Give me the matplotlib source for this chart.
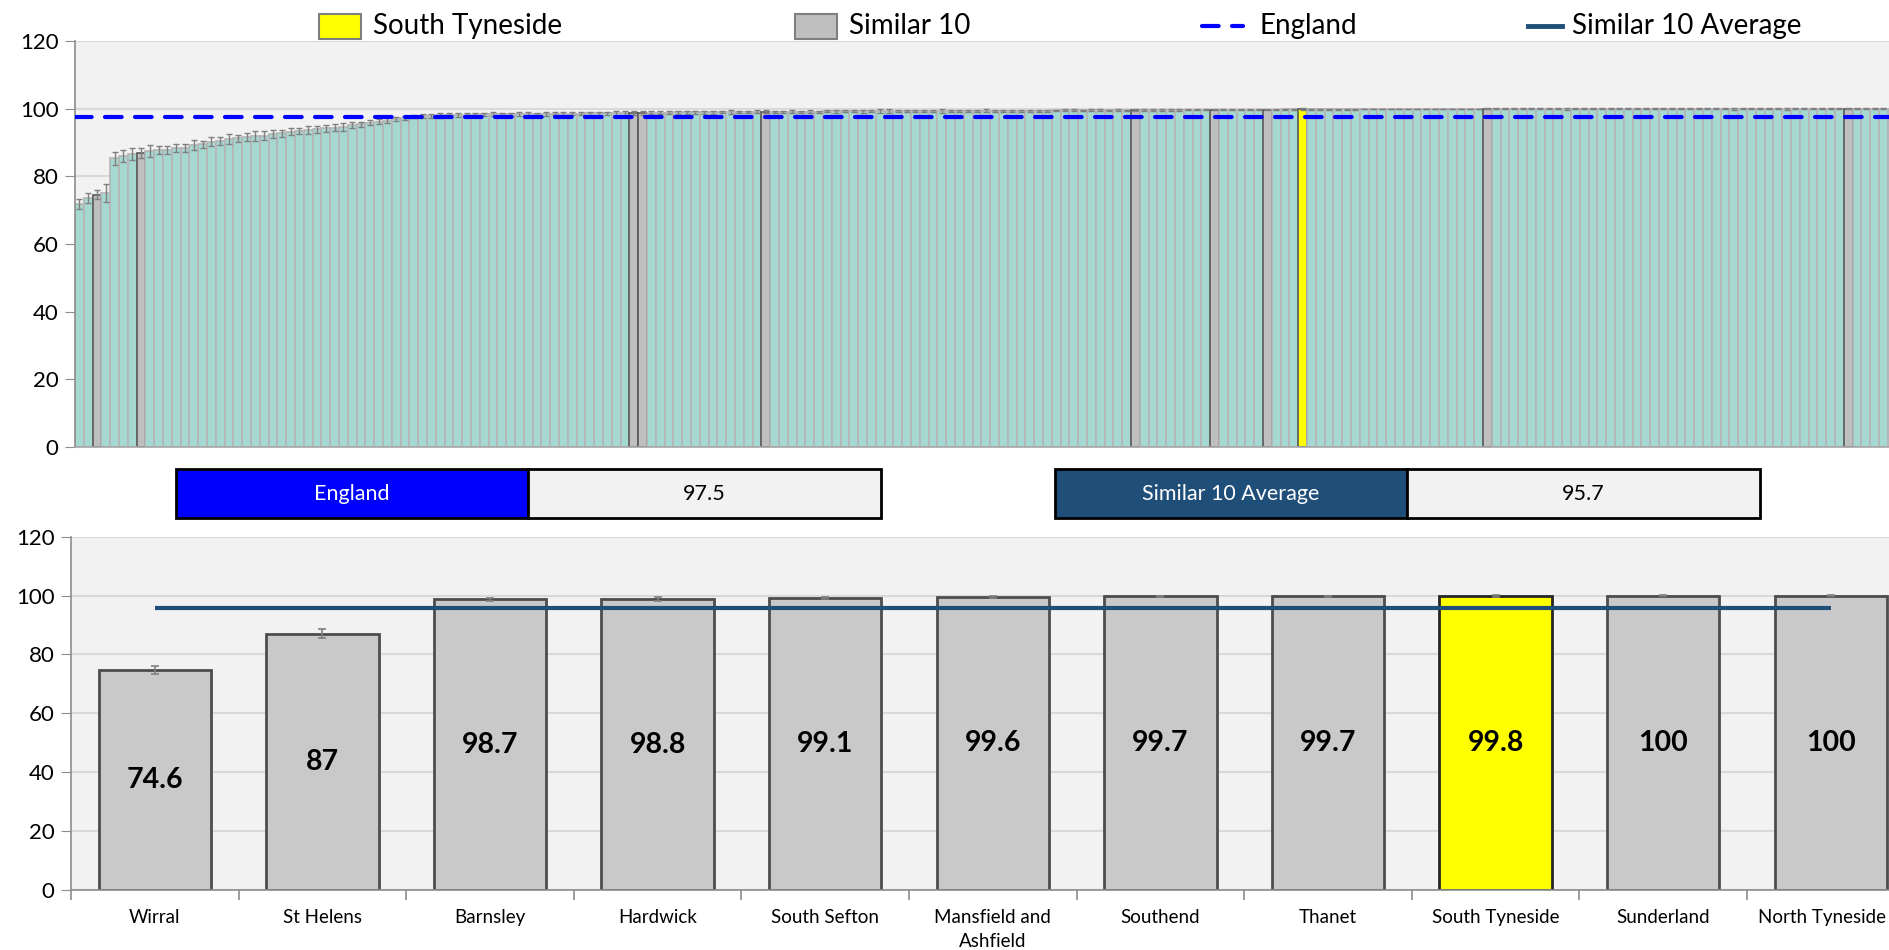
import matplotlib
matplotlib.use("Agg")
import matplotlib.pyplot as plt
from matplotlib.patches import Rectangle
from matplotlib.lines import Line2D
from matplotlib.transforms import ScaledTranslation

plt.rcParams['font.family'] = ['Lato', 'DejaVu Sans']

# ---------------- data ----------------
# Top chart: all areas, ranked ascending
top_values = [
    71.8, 73.5, 74.6, 75.0, 85.3, 86.0, 86.6, 87.0, 87.5, 87.8,
    87.8, 88.3, 88.5, 89.3, 89.5, 90.2, 90.5, 91.0, 91.2, 91.6,
    91.9, 92.0, 92.5, 92.7, 93.2, 93.5, 93.7, 93.9, 94.2, 94.4,
    94.7, 95.2, 95.4, 95.9, 96.2, 96.5, 96.9, 97.3, 97.6, 97.8,
    97.8, 98.0, 98.1, 98.2, 98.2, 98.2, 98.3, 98.3, 98.3, 98.3,
    98.4, 98.4, 98.4, 98.4, 98.5, 98.5, 98.5, 98.5, 98.6, 98.6,
    98.6, 98.6, 98.7, 98.7, 98.8, 98.8, 98.8, 98.8, 98.9, 98.9,
    98.9, 98.9, 98.9, 99.0, 99.0, 99.0, 99.0, 99.1, 99.1, 99.1,
    99.1, 99.1, 99.1, 99.1, 99.1, 99.2, 99.2, 99.2, 99.2, 99.2,
    99.2, 99.2, 99.2, 99.3, 99.3, 99.3, 99.3, 99.3, 99.3, 99.3,
    99.3, 99.3, 99.4, 99.4, 99.4, 99.4, 99.4, 99.4, 99.4, 99.4,
    99.4, 99.5, 99.5, 99.5, 99.5, 99.5, 99.5, 99.5, 99.5, 99.5,
    99.6, 99.6, 99.6, 99.6, 99.6, 99.6, 99.7, 99.7, 99.7, 99.7,
    99.7, 99.7, 99.7, 99.7, 99.7, 99.7, 99.7, 99.8, 99.8, 99.8,
    99.8, 99.8, 99.8, 99.8, 99.8, 99.8, 99.9, 99.9, 99.9, 99.9,
    99.9, 99.9, 99.9, 99.9, 99.9, 99.9, 99.9, 99.9, 99.9, 99.9,
    100, 100, 100, 100, 100, 100, 100, 100, 100, 100,
    100, 100, 100, 100, 100, 100, 100, 100, 100, 100,
    100, 100, 100, 100, 100, 100, 100, 100, 100, 100,
    100, 100, 100, 100, 100, 100, 100, 100, 100, 100,
    100, 100, 100, 100, 100, 100, 100,
]
top_errors = [
    1.5, 1.5, 1.4, 2.6, 2.0, 1.8, 1.7, 1.5, 1.8, 1.3,
    1.3, 1.2, 1.2, 1.4, 1.0, 1.3, 1.2, 1.4, 1.0, 1.3,
    1.5, 1.4, 1.2, 1.0, 1.1, 0.9, 1.2, 1.0, 1.0, 1.0,
    1.2, 0.8, 0.8, 0.8, 0.7, 0.7, 0.6, 0.6, 0.5, 0.6,
    0.6, 0.7, 0.5, 0.6, 0.5, 0.4, 0.5, 0.6, 0.5, 0.4,
    0.5, 0.6, 0.4, 0.5, 0.5, 0.6, 0.4, 0.5, 0.5, 0.4,
    0.5, 0.6, 0.5, 0.5, 0.6, 0.4, 0.5, 0.4, 0.5, 0.5,
    0.4, 0.5, 0.4, 0.4, 0.5, 0.3, 0.4, 0.4, 0.4, 0.3,
    0.3, 0.4, 0.3, 0.4, 0.3, 0.3, 0.4, 0.3, 0.3, 0.4,
    0.3, 0.6, 0.6, 0.3, 0.3, 0.4, 0.3, 0.3, 0.6, 0.3,
    0.3, 0.3, 0.3, 0.4, 0.3, 0.3, 0.3, 0.3, 0.3, 0.3,
    0.3, 0.2, 0.3, 0.3, 0.2, 0.3, 0.3, 0.2, 0.3, 0.2,
    0.3, 0.2, 0.2, 0.3, 0.2, 0.2, 0.2, 0.2, 0.2, 0.2,
    0.2, 0.2, 0.2, 0.2, 0.2, 0.2, 0.2, 0.2, 0.2, 0.3,
    0.2, 0.2, 0.2, 0.2, 0.2, 0.2, 0.1, 0.1, 0.1, 0.1,
    0.1, 0.1, 0.1, 0.1, 0.1, 0.1, 0.1, 0.1, 0.1, 0.1,
    0.1, 0.1, 0.1, 0.1, 0.1, 0.1, 0.1, 0.1, 0.1, 0.3,
    0.1, 0.1, 0.1, 0.1, 0.1, 0.1, 0.1, 0.1, 0.1, 0.1,
    0.1, 0.1, 0.1, 0.1, 0.1, 0.1, 0.1, 0.1, 0.3, 0.1,
    0.1, 0.1, 0.1, 0.1, 0.3, 0.1, 0.1, 0.1, 0.1, 0.1,
    0.1, 0.1, 0.1, 0.1, 0.1, 0.1, 0.1,
]
# rank positions of the comparator group in the top chart
similar_ranks = {2: "Wirral", 7: "St Helens", 63: "Barnsley", 64: "Hardwick",
                 78: "South Sefton", 120: "Mansfield and Ashfield", 129: "Southend",
                 135: "Thanet", 160: "Sunderland", 201: "North Tyneside"}
local_rank = 139  # South Tyneside

# Bottom chart: similar 10 + South Tyneside
categories = ["Wirral", "St Helens", "Barnsley", "Hardwick", "South Sefton",
              "Mansfield and\nAshfield", "Southend", "Thanet", "South Tyneside",
              "Sunderland", "North Tyneside"]
values = [74.6, 87, 98.7, 98.8, 99.1, 99.6, 99.7, 99.7, 99.8, 100, 100]
errors = [1.4, 1.5, 0.5, 0.6, 0.4, 0.3, 0.2, 0.2, 0.3, 0.1, 0.1]
value_labels = ["74.6", "87", "98.7", "98.8", "99.1", "99.6", "99.7", "99.7", "99.8", "100", "100"]
local_name = "South Tyneside"

england_value = 97.5
similar_avg = 95.7

# ---------------- styling ----------------
TEAL = '#A6D8D2'
TEAL_EDGE = '#B5B5B5'
GREY = '#BFBFBF'
GREY_B = '#C9C9C9'
YELLOW = '#FFFF00'
DARK_EDGE = '#595959'
ENG_BLUE = '#0000FF'
AVG_BLUE = '#1F4E79'
PLOT_BG = '#F2F2F2'
GRID = '#D9D9D9'
SPINE = '#8C8C8C'

fig = plt.figure(figsize=(18.89, 9.5), dpi=100)
fig.patch.set_facecolor('white')

# ---------------- top chart ----------------
n = len(top_values)
x = list(range(n))
colors = []
edges = []
for i in x:
    if i == local_rank:
        colors.append(YELLOW); edges.append(DARK_EDGE)
    elif i in similar_ranks:
        colors.append(GREY); edges.append(DARK_EDGE)
    else:
        colors.append(TEAL); edges.append(TEAL_EDGE)

ax1 = fig.add_axes([75 / 1889, 1 - 447 / 950, (n * 8.8) / 1889, (447 - 41) / 950])
ax1.set_facecolor(PLOT_BG)
ax1.bar(x, top_values, width=1.0, color=colors, edgecolor=edges, linewidth=1.2, zorder=2)
ax1.errorbar(x, top_values, yerr=top_errors, fmt='none', ecolor='#7F7F7F',
             elinewidth=1.0, capsize=2.2, capthick=1.0, zorder=3)
ax1.axhline(england_value, color=ENG_BLUE, lw=3.0, dashes=(4.0, 3.2),
            dash_capstyle='round', zorder=4)
ax1.set_xlim(-0.5, n - 0.5)
ax1.set_ylim(0, 120)
ax1.set_yticks(range(0, 121, 20))
ax1.yaxis.grid(True, color=GRID, lw=1.5, zorder=0)
ax1.set_axisbelow(True)
ax1.set_xticks([])
for s in ['top', 'right']:
    ax1.spines[s].set_visible(False)
ax1.spines['left'].set_color(SPINE)
ax1.spines['left'].set_linewidth(1.2)
ax1.spines['bottom'].set_color('#A6A6A6')
ax1.spines['bottom'].set_linewidth(1.2)
ax1.tick_params(axis='y', labelsize=16, length=7, color=SPINE, pad=5)

# ---------------- bottom chart ----------------
ax2 = fig.add_axes([71 / 1889, 60 / 950, (11 * 167.6) / 1889, (890 - 536.7) / 950])
ax2.set_facecolor(PLOT_BG)
xb = list(range(len(categories)))
bcolors = [YELLOW if c == local_name else GREY_B for c in categories]
bedges = ['#262626' if c == local_name else '#4D4D4D' for c in categories]
bars = ax2.bar(xb, values, width=0.67, color=bcolors, edgecolor=bedges, linewidth=2.0, zorder=2)
ax2.errorbar(xb, values, yerr=errors, fmt='none', ecolor='#7F7F7F',
             elinewidth=1.2, capsize=3.0, capthick=1.2, zorder=3)
ax2.plot(xb, [similar_avg] * len(xb), color=AVG_BLUE, lw=3.0, zorder=4,
         solid_capstyle='butt')
ax2.bar_label(bars, labels=value_labels, label_type='center', fontsize=20.5,
              fontweight='bold', color='black', zorder=5)
ax2.set_xlim(-0.5, len(categories) - 0.5)
ax2.set_ylim(0, 120)
ax2.set_yticks(range(0, 121, 20))
ax2.yaxis.grid(True, color=GRID, lw=1.5, zorder=0)
ax2.set_axisbelow(True)
ax2.set_xticks(xb)
ax2.set_xticklabels(categories, fontsize=13.5, linespacing=1.45)
ax2.set_xticks([i + 0.5 for i in range(-1, len(categories))], minor=True)
ax2.tick_params(axis='x', which='major', length=0, pad=14)
ax2.tick_params(axis='x', which='minor', length=7, color=SPINE, width=1.2)
ax2.tick_params(axis='y', labelsize=16, length=7, color=SPINE, pad=5)
for s in ['top', 'right']:
    ax2.spines[s].set_visible(False)
for s in ['left', 'bottom']:
    ax2.spines[s].set_color(SPINE)
    ax2.spines[s].set_linewidth(1.2)
# the last label sits at the cropped right edge: nudge it inside the figure
last_lbl = ax2.get_xticklabels()[-1]
last_lbl.set_transform(last_lbl.get_transform() + ScaledTranslation(-9 / 100, 0, fig.dpi_scale_trans))

# ---------------- summary boxes ----------------
def summary_box(x0, x1, x2, label, val, color):
    y0 = 1 - 518 / 950
    h = 49 / 950
    fig.add_artist(Rectangle((x0 / 1889, y0), (x1 - x0) / 1889, h, transform=fig.transFigure,
                             facecolor=color, edgecolor='black', lw=2.0))
    fig.add_artist(Rectangle((x1 / 1889, y0), (x2 - x1) / 1889, h, transform=fig.transFigure,
                             facecolor=PLOT_BG, edgecolor='black', lw=2.0))
    fig.text((x0 + x1) / 2 / 1889, y0 + h / 2, label, color='white', fontsize=15.5,
             ha='center', va='center')
    fig.text((x1 + x2) / 2 / 1889, y0 + h / 2, val, color='black', fontsize=15.5,
             ha='center', va='center')

summary_box(176, 528, 881, "England", f"{england_value}", ENG_BLUE)
summary_box(1055, 1407, 1760, "Similar 10 Average", f"{similar_avg}", AVG_BLUE)

# ---------------- legend ----------------
ly = 1 - 26 / 950
ph = 25 / 950
fig.add_artist(Rectangle((319 / 1889, ly - ph / 2), 42 / 1889, ph, transform=fig.transFigure,
                         facecolor=YELLOW, edgecolor='#7F7F7F', lw=1.5))
fig.text(373 / 1889, ly, "South Tyneside", fontsize=20, va='center', ha='left')
fig.add_artist(Rectangle((795 / 1889, ly - ph / 2), 42 / 1889, ph, transform=fig.transFigure,
                         facecolor=GREY, edgecolor='#7F7F7F', lw=1.5))
fig.text(849 / 1889, ly, "Similar 10", fontsize=20, va='center', ha='left')
fig.add_artist(Line2D([1202 / 1889, 1243 / 1889], [ly, ly], transform=fig.transFigure,
                      color=ENG_BLUE, lw=3.0, dashes=(4.0, 3.2), dash_capstyle='round'))
fig.text(1259 / 1889, ly, "England", fontsize=20, va='center', ha='left')
fig.add_artist(Line2D([1528 / 1889, 1562 / 1889], [ly, ly], transform=fig.transFigure,
                      color=AVG_BLUE, lw=3.5))
fig.text(1572 / 1889, ly, "Similar 10 Average", fontsize=20, va='center', ha='left')

fig.savefig("out.png", dpi=100)
